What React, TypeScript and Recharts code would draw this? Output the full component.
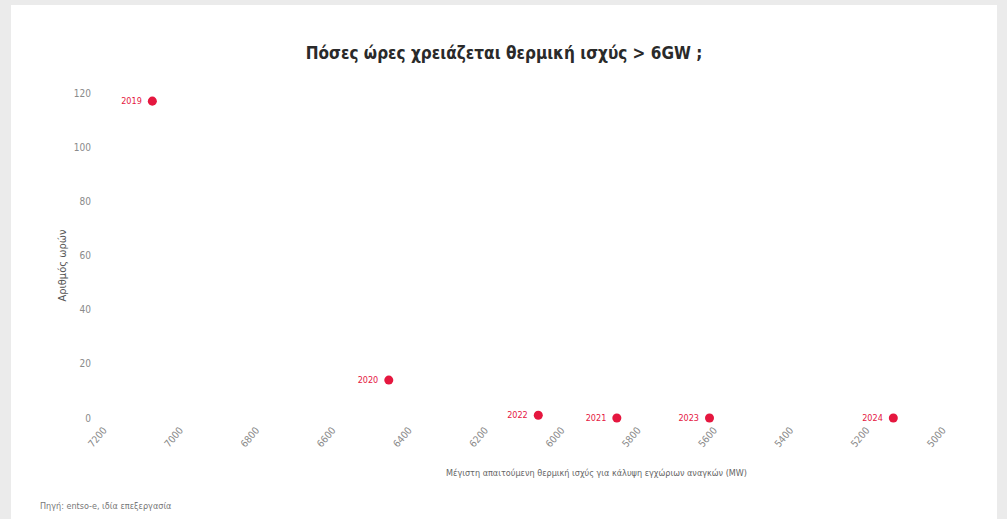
import { Label, LabelList, Scatter, ScatterChart, XAxis, YAxis, ZAxis } from 'recharts';

const years = ['2019', '2020', '2021', '2022', '2023', '2024'];
const maxThermalMW = [7068, 6448, 5850, 6056, 5607, 5125];
const hoursAbove6GW = [117, 14, 0, 1, 0, 0];
const xTicks = [7200, 7000, 6800, 6600, 6400, 6200, 6000, 5800, 5600, 5400, 5200, 5000];
const yTicks = [0, 20, 40, 60, 80, 100, 120];

const RED = '#e5173f';
const FONT = '"Liberation Sans Narrow", "DejaVu Sans Condensed", "Open Sans", sans-serif';

const points = years.map((year, i) => ({
  year,
  mw: maxThermalMW[i],
  hours: hoursAbove6GW[i],
}));

export default function App() {
  return (
    <div
      style={{
        position: 'fixed',
        left: 0,
        top: 0,
        width: 1007,
        height: 519,
        background: '#ebebeb',
        fontFamily: FONT,
      }}
    >
      <div
        style={{
          position: 'absolute',
          left: 11,
          top: 5,
          width: 986,
          height: 514,
          background: '#fff',
        }}
      >
        <div
          style={{
            position: 'absolute',
            top: 38,
            width: '100%',
            textAlign: 'center',
            fontWeight: 700,
            fontSize: 17,
            color: '#2a2a2a',
          }}
        >
          Πόσες ώρες χρειάζεται θερμική ισχύς &gt; 6GW ;
        </div>
        <ScatterChart
          width={986}
          height={514}
          margin={{ top: 88, right: 56, bottom: 0, left: 0 }}
          style={{ fontFamily: FONT }}
        >
          <XAxis
            type="number"
            dataKey="mw"
            domain={[5000, 7200]}
            ticks={xTicks}
            reversed
            axisLine={false}
            tickLine={false}
            interval={0}
            angle={-50}
            textAnchor="end"
            height={101}
            tickMargin={2}
            tick={{ fill: '#8a8a8a', fontSize: 10 }}
          >
            <Label
              value="Μέγιστη απαιτούμενη θερμική ισχύς για κάλυψη εγχώριων αναγκών (MW)"
              position="insideBottom"
              offset={43}
              dx={75}
              fill="#666"
              fontSize={9}
            />
          </XAxis>
          <YAxis
            type="number"
            dataKey="hours"
            domain={[0, 120]}
            ticks={yTicks}
            axisLine={false}
            tickLine={false}
            width={91}
            tickMargin={5}
            tick={{ fill: '#8a8a8a', fontSize: 10 }}
          >
            <Label
              value="Αριθμός ωρών"
              angle={-90}
              position="insideLeft"
              textAnchor="middle"
              offset={44}
              dx={7}
              dy={10}
              fill="#555"
              fontSize={11}
            />
          </YAxis>
          <ZAxis range={[150, 150]} />
          <Scatter data={points} fill={RED} isAnimationActive={false}>
            <LabelList dataKey="year" position="left" offset={6} fill={RED} fontSize={9} />
          </Scatter>
        </ScatterChart>
        <div
          style={{
            position: 'absolute',
            left: 29,
            top: 496,
            fontSize: 9,
            color: '#777',
          }}
        >
          Πηγή: entso-e, ιδία επεξεργασία
        </div>
      </div>
    </div>
  );
}
